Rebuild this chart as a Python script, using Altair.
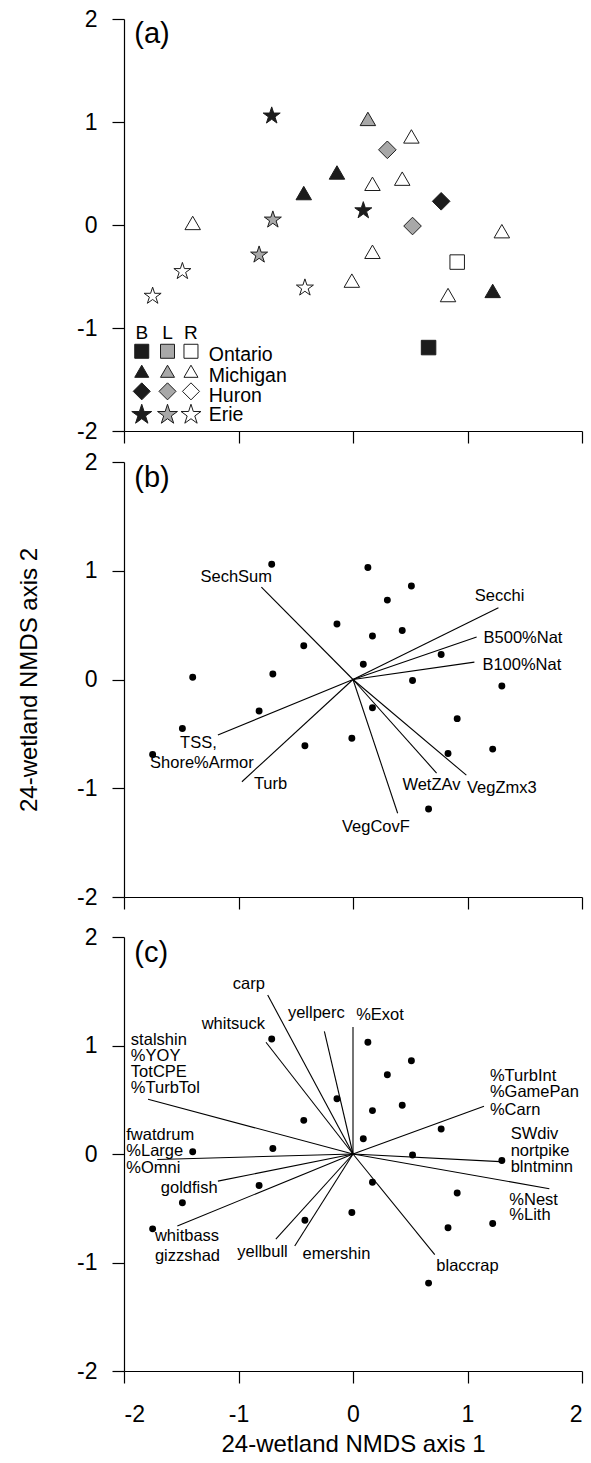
import altair as alt
import pandas as pd

FONT = "Liberation Sans"

# ---------------- site scores (24 wetlands) ----------------
site_x = [-0.71, 0.13, 0.51, 0.30, -0.14, 0.17, 0.43, -0.43, 0.09, 0.77, -1.40, -0.70,
          0.52, 1.30, -0.82, 0.17, 0.91, -1.49, -0.01, -0.42, 0.83, 1.22, -1.75, 0.66]
site_y = [1.06, 1.03, 0.86, 0.73, 0.51, 0.40, 0.45, 0.31, 0.14, 0.23, 0.02, 0.05,
          -0.01, -0.06, -0.29, -0.26, -0.36, -0.45, -0.54, -0.61, -0.68, -0.64, -0.69, -1.19]
site_lake = ["Erie", "Michigan", "Michigan", "Huron", "Michigan", "Michigan", "Michigan", "Michigan",
             "Erie", "Huron", "Michigan", "Erie", "Huron", "Michigan", "Erie", "Michigan",
             "Ontario", "Erie", "Michigan", "Erie", "Michigan", "Michigan", "Erie", "Ontario"]
site_zone = ["B", "L", "R", "L", "B", "R", "R", "B", "B", "B", "R", "L",
             "L", "R", "L", "R", "R", "R", "R", "R", "R", "B", "R", "B"]

lakes = ["Ontario", "Michigan", "Huron", "Erie"]
zones = ["B", "L", "R"]

# ---------------- panel (b): environmental vectors ----------------
env_names = ["SechSum", "Secchi", "B500%Nat", "B100%Nat", "TSS, Shore%Armor", "Turb", "VegCovF", "WetZAv", "VegZmx3"]
env_x = [-0.80, 1.27, 1.08, 1.06, -1.18, -0.97, 0.39, 0.73, 0.99]
env_y = [0.85, 0.66, 0.39, 0.16, -0.51, -0.94, -1.23, -0.86, -0.88]

env_c_text = ["SechSum", "Secchi", "TSS,", "Shore%Armor", "Turb", "VegCovF", "WetZAv", "VegZmx3"]
env_c_x = [-1.02, 1.28, -1.35, -1.32, -0.72, 0.20, 0.685, 1.30]
env_c_y = [0.94, 0.77, -0.58, -0.77, -0.96, -1.355, -0.97, -1.00]
env_l_text = ["B500%Nat", "B100%Nat"]
env_l_x = [1.14, 1.13]
env_l_y = [0.38, 0.13]

# ---------------- panel (c): fish vectors ----------------
sp_names = ["carp", "whitsuck", "yellperc", "%Exot", "stalshin group", "fwatdrum group", "goldfish",
            "whitbass group", "yellbull", "emershin", "blaccrap", "%TurbInt group", "SWdiv group", "%Nest group"]
sp_x = [-0.745, -0.76, -0.25, 0.0, -1.79, -1.71, -1.18, -1.534, -0.674, -0.509, 0.714, 1.144, 1.284, 1.715]
sp_y = [1.465, 1.03, 1.13, 1.17, 0.505, -0.05, -0.25, -0.663, -0.784, -0.848, -0.927, 0.44, -0.07, -0.32]

sp_c_text = ["carp", "whitsuck", "yellperc", "%Exot", "goldfish", "yellbull", "emershin", "blaccrap"]
sp_c_x = [-0.91, -1.045, -0.32, 0.236, -1.43, -0.79, -0.145, 1.00]
sp_c_y = [1.57, 1.20, 1.30, 1.28, -0.31, -0.90, -0.92, -1.03]
sp_l_text = ["stalshin", "%YOY", "TotCPE", "%TurbTol",
             "fwatdrum", "%Large", "%Omni",
             "whitbass", "gizzshad",
             "%TurbInt", "%GamePan", "%Carn",
             "SWdiv", "nortpike", "blntminn",
             "%Nest", "%Lith"]
sp_l_x = [-1.94, -1.94, -1.94, -1.94,
          -1.98, -1.98, -1.98,
          -1.73, -1.73,
          1.196, 1.196, 1.196,
          1.377, 1.377, 1.377,
          1.365, 1.365]
sp_l_y = [1.05, 0.90, 0.76, 0.61,
          0.175, 0.028, -0.126,
          -0.752, -0.937,
          0.72, 0.57, 0.41,
          0.18, 0.028, -0.116,
          -0.42, -0.566]

tick_vals = [-2, -1, 0, 1, 2]

# ---------------- styling / layout ----------------
STAR = ("M0,-1 L0.2245,-0.309 L0.951,-0.309 L0.363,0.118 L0.588,0.809 L0,0.382 "
        "L-0.588,0.809 L-0.363,0.118 L-0.951,-0.309 L-0.2245,-0.309 Z")
shape_of = {"Ontario": "square", "Michigan": "triangle-up", "Huron": "diamond", "Erie": STAR}
size_pts = {"Ontario": 210, "Michigan": 240, "Huron": 310, "Erie": 320}
size_leg = {"Ontario": 196, "Michigan": 196, "Huron": 290, "Erie": 440}
fill_scale = alt.Scale(domain=zones, range=["#1c1c1c", "#a8a8a8", "#ffffff"])
W = 458
H = {"a": 412, "b": 435, "c": 434}
LABEL_FS = 16.5

sites = pd.DataFrame({"x": site_x, "y": site_y, "lake": site_lake, "zone": site_zone})

leg_col = {"B": -1.845, "L": -1.62, "R": -1.415}
leg_row = {"Ontario": -1.226, "Michigan": -1.42, "Huron": -1.615, "Erie": -1.842}
leg_rows = []
for lk in lakes:
    for z in zones:
        leg_rows.append({"x": leg_col[z], "y": leg_row[lk], "lake": lk, "zone": z})
legend_df = pd.DataFrame(leg_rows)
legend_head = pd.DataFrame({"t": zones, "x": [leg_col[z] for z in zones], "y": [-1.05] * 3})
legend_names = pd.DataFrame({"t": lakes, "x": [-1.26] * 4,
                             "y": [-1.26, -1.469, -1.663, -1.842]})


def enc_xy(panel):
    show = panel == "c"
    xaxis = alt.Axis(values=tick_vals, labels=show, title="24-wetland NMDS axis 1" if show else None,
                     grid=False, tickSize=12, tickWidth=1.2, domainWidth=1.2,
                     domainColor="black", tickColor="black", labelColor="black",
                     labelFontSize=23, labelPadding=20, labelFont=FONT,
                     labelExpr="'' + datum.value",
                     titleFontSize=24, titleFont=FONT, titleFontWeight="normal",
                     titlePadding=6, titleColor="black")
    yaxis = alt.Axis(values=tick_vals, title="24-wetland NMDS axis 2",
                     titleOpacity=1 if panel == "b" else 0,
                     grid=False, tickSize=12, tickWidth=1.2, domainWidth=1.2,
                     domainColor="black", tickColor="black", labelColor="black",
                     labelFontSize=23, labelPadding=15, labelFont=FONT,
                     labelExpr="'' + datum.value",
                     titleFontSize=24, titleFont=FONT, titleFontWeight="normal",
                     titlePadding=35, titleColor="black")
    sx = alt.Scale(domain=[-2, 2], nice=False, zero=False)
    sy = alt.Scale(domain=[-2, 2], nice=False, zero=False)
    return (alt.X("x:Q", scale=sx, axis=xaxis), alt.Y("y:Q", scale=sy, axis=yaxis))


def tag(panel, text):
    X, Y = enc_xy(panel)
    df = pd.DataFrame({"t": [text], "x": [-1.91], "y": [1.855]})
    return alt.Chart(df).mark_text(font=FONT, fontSize=29, align="left", baseline="middle",
                                   color="black").encode(x=X, y=Y, text="t:N")


# ---------------- panel (a) ----------------
Xa, Ya = enc_xy("a")
layers_a = []
for lk in lakes:
    layers_a.append(
        alt.Chart(sites).transform_filter(alt.datum.lake == lk)
        .mark_point(shape=shape_of[lk], size=size_pts[lk], filled=True, stroke="#1c1c1c",
                    strokeWidth=1, opacity=1)
        .encode(x=Xa, y=Ya, fill=alt.Fill("zone:N", scale=fill_scale, legend=None))
    )
for lk in lakes:
    layers_a.append(
        alt.Chart(legend_df).transform_filter(alt.datum.lake == lk)
        .mark_point(shape=shape_of[lk], size=size_leg[lk], filled=True, stroke="#1c1c1c",
                    strokeWidth=1, opacity=1)
        .encode(x=Xa, y=Ya, fill=alt.Fill("zone:N", scale=fill_scale, legend=None))
    )
layers_a.append(alt.Chart(legend_head).mark_text(font=FONT, fontSize=19, align="center",
                                                 baseline="middle", color="black")
                .encode(x=Xa, y=Ya, text="t:N"))
layers_a.append(alt.Chart(legend_names).mark_text(font=FONT, fontSize=19.5, align="left",
                                                  baseline="middle", color="black")
                .encode(x=Xa, y=Ya, text="t:N"))
layers_a.append(tag("a", "(a)"))
panel_a = alt.layer(*layers_a).properties(width=W, height=H["a"])

# ---------------- panel (b) ----------------
Xb, Yb = enc_xy("b")
env = pd.DataFrame({"name": env_names, "x": env_x, "y": env_y})
env_c = pd.DataFrame({"t": env_c_text, "x": env_c_x, "y": env_c_y})
env_l = pd.DataFrame({"t": env_l_text, "x": env_l_x, "y": env_l_y})
dots_b = alt.Chart(sites).mark_circle(size=48, color="black", opacity=1).encode(x=Xb, y=Yb)
rules_b = alt.Chart(env).mark_rule(color="black", strokeWidth=1.1).encode(
    x=Xb, y=Yb, x2=alt.datum(0), y2=alt.datum(0))
txt_bc = alt.Chart(env_c).mark_text(font=FONT, fontSize=LABEL_FS, align="center", baseline="middle",
                                    color="black").encode(x=Xb, y=Yb, text="t:N")
txt_bl = alt.Chart(env_l).mark_text(font=FONT, fontSize=LABEL_FS, align="left", baseline="middle",
                                    color="black").encode(x=Xb, y=Yb, text="t:N")
panel_b = alt.layer(dots_b, rules_b, txt_bc, txt_bl, tag("b", "(b)")).properties(width=W, height=H["b"])

# ---------------- panel (c) ----------------
Xc, Yc = enc_xy("c")
sp = pd.DataFrame({"name": sp_names, "x": sp_x, "y": sp_y})
sp_c = pd.DataFrame({"t": sp_c_text, "x": sp_c_x, "y": sp_c_y})
sp_l = pd.DataFrame({"t": sp_l_text, "x": sp_l_x, "y": sp_l_y})
dots_c = alt.Chart(sites).mark_circle(size=48, color="black", opacity=1).encode(x=Xc, y=Yc)
rules_c = alt.Chart(sp).mark_rule(color="black", strokeWidth=1.1).encode(
    x=Xc, y=Yc, x2=alt.datum(0), y2=alt.datum(0))
txt_cc = alt.Chart(sp_c).mark_text(font=FONT, fontSize=LABEL_FS, align="center", baseline="middle",
                                   color="black").encode(x=Xc, y=Yc, text="t:N")
txt_cl = alt.Chart(sp_l).mark_text(font=FONT, fontSize=LABEL_FS, align="left", baseline="middle",
                                   color="black").encode(x=Xc, y=Yc, text="t:N")
panel_c = alt.layer(dots_c, rules_c, txt_cc, txt_cl, tag("c", "(c)")).properties(width=W, height=H["c"])

top = alt.vconcat(panel_a, panel_b, spacing=7)
chart = alt.vconcat(top, panel_c, spacing=16).properties(
    padding={"left": 17, "top": 8, "right": 2, "bottom": 0},
    background="white",
).configure_view(stroke=None)

chart.save("out.html", embed_options={"renderer": "svg", "actions": False})
